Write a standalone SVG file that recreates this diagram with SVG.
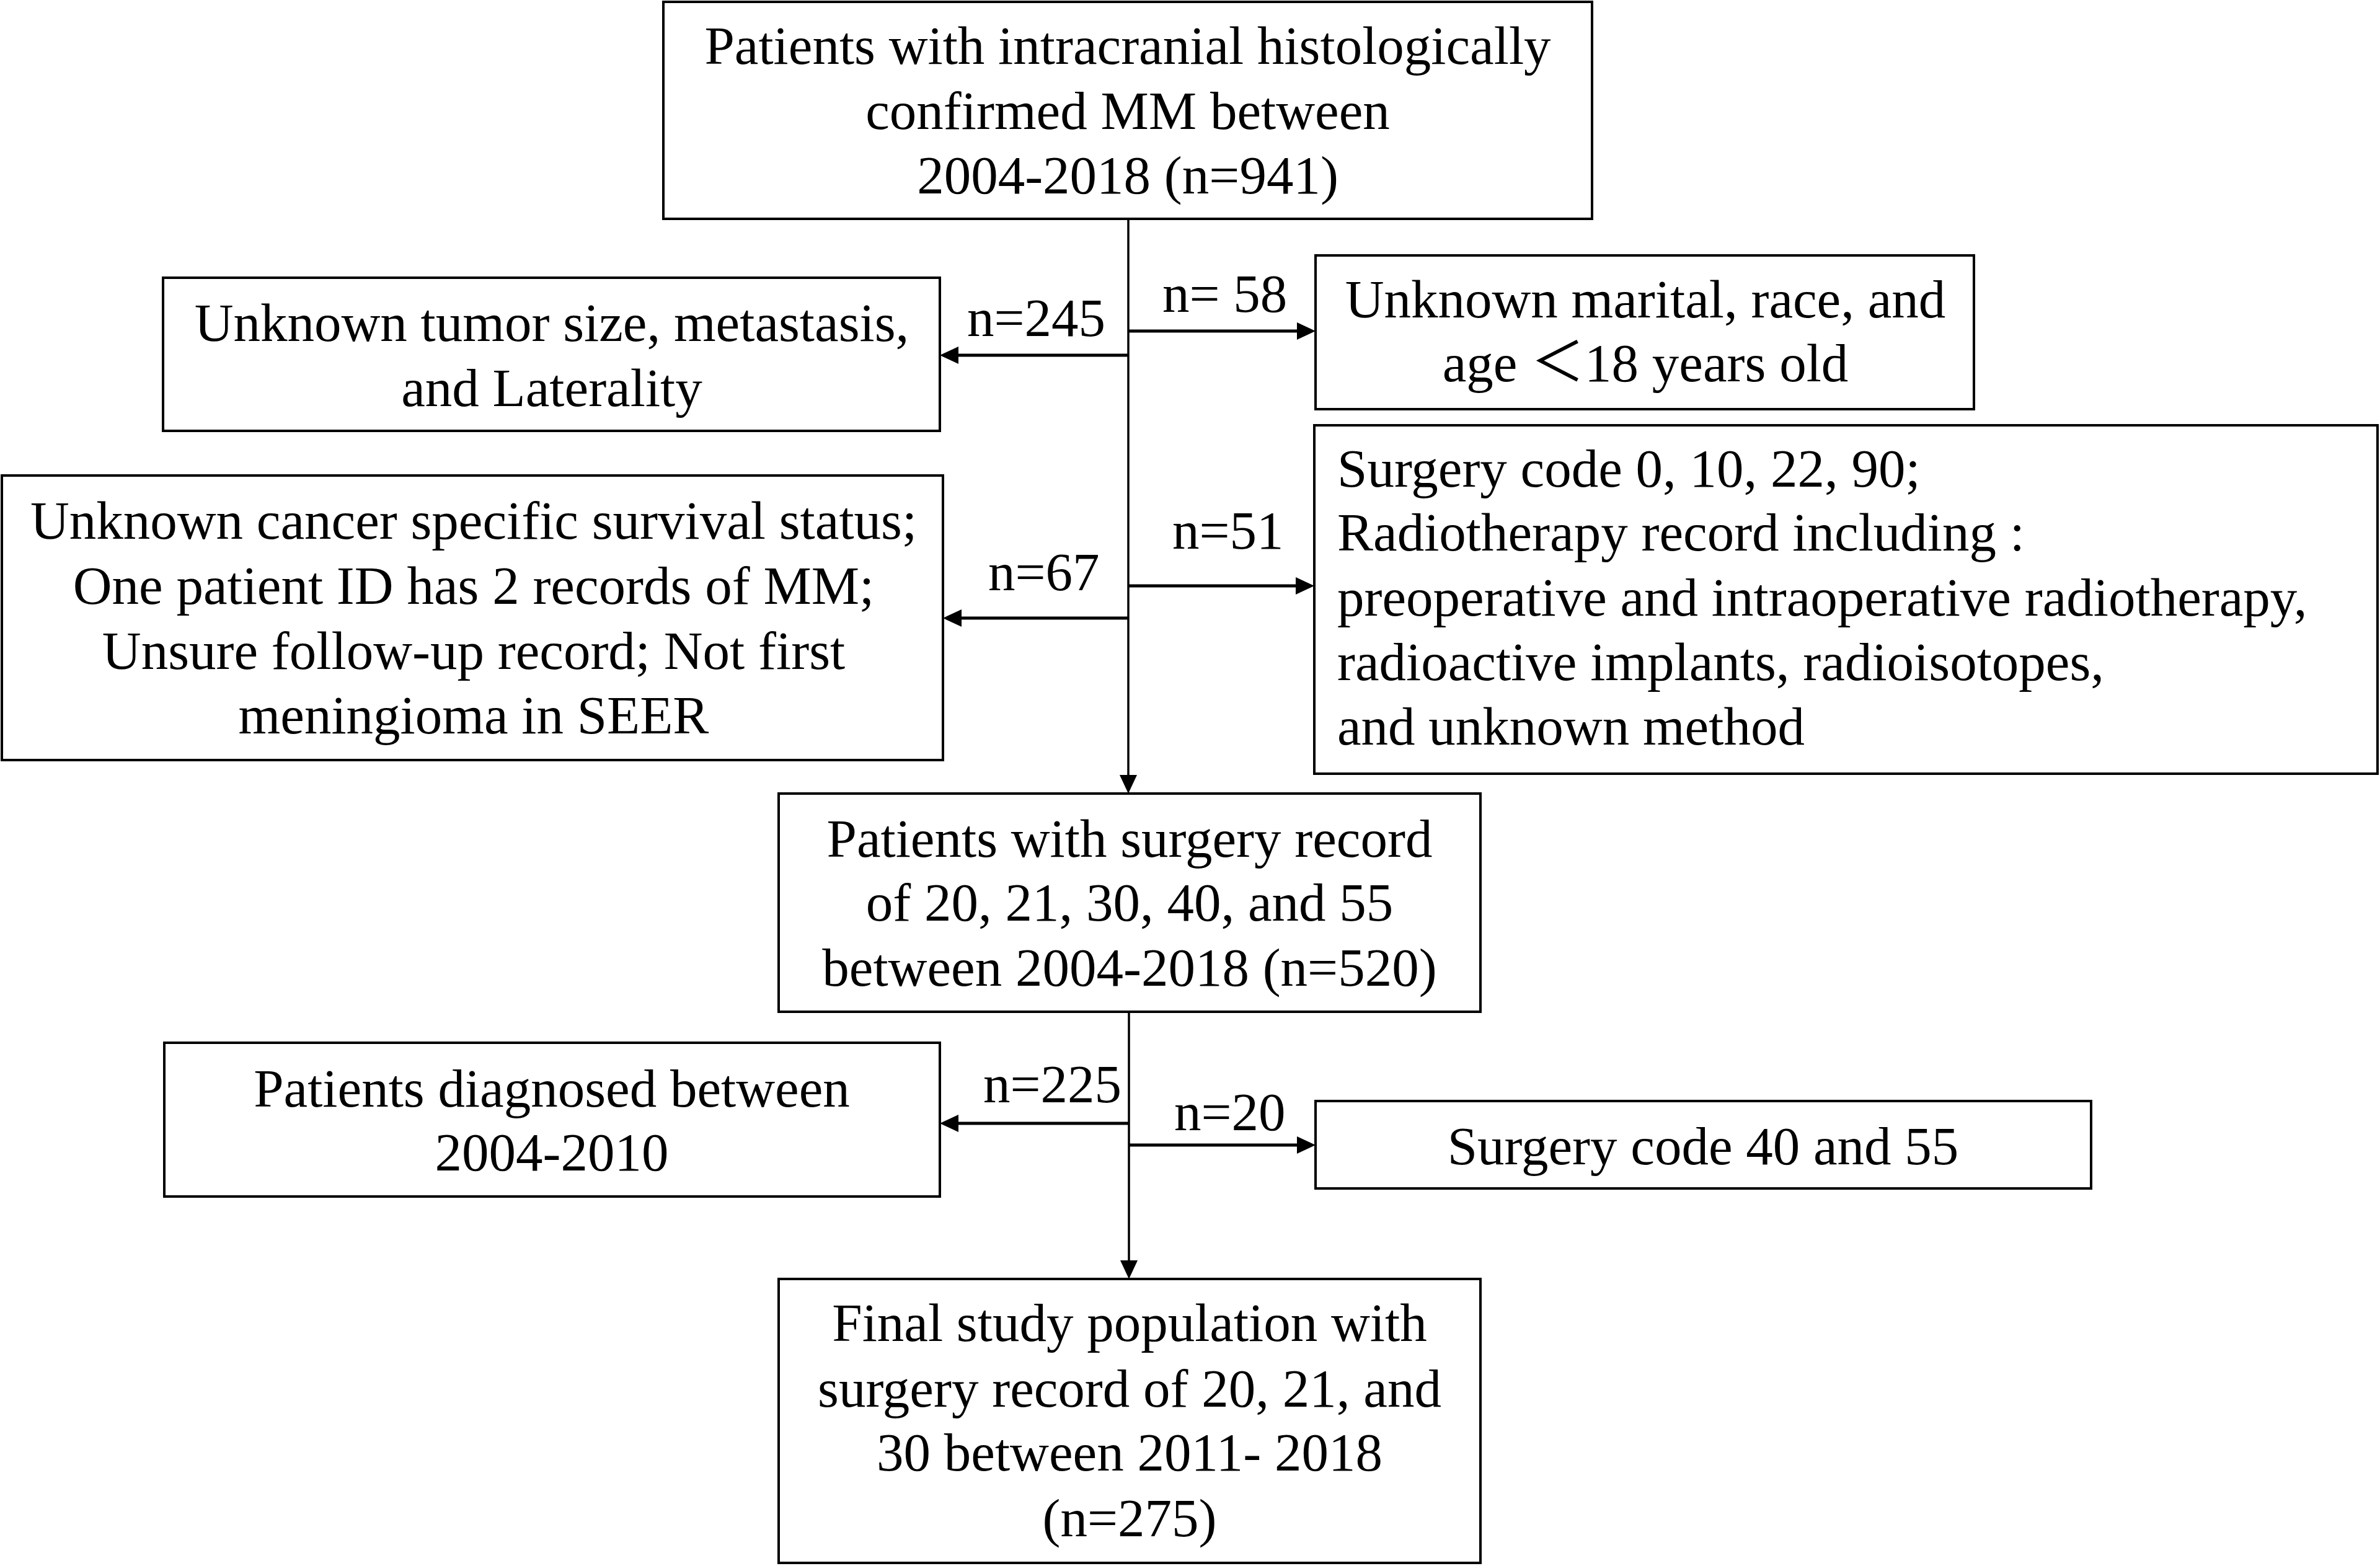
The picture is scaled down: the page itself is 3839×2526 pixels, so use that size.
<svg xmlns="http://www.w3.org/2000/svg" width="3839" height="2526" viewBox="0 0 3839 2526">
<style>
.box{fill:#fff;stroke:#000;stroke-width:4}
.t{font-family:"Liberation Serif","Times New Roman","Noto Sans CJK SC",serif;font-size:87px;fill:#000}
.c{text-anchor:middle}
.v{stroke:#000;stroke-width:3.5;fill:none}
.h{stroke:#000;stroke-width:5;fill:none}
</style>
<defs>
<marker id="ah" viewBox="0 0 30 28" markerUnits="userSpaceOnUse" markerWidth="30" markerHeight="28" refX="10" refY="14" orient="auto">
<path d="M0,0 L30,14 L0,28 z" fill="#000"/>
</marker>
</defs>
<rect width="3839" height="2526" fill="#fff"/>
<g id="connectors">
<line class="v" x1="1820" y1="353" x2="1820" y2="1260" marker-end="url(#ah)"/>
<line class="v" x1="1821" y1="1632" x2="1821" y2="2043" marker-end="url(#ah)"/>
<line class="h" x1="1820" y1="573" x2="1536" y2="573" marker-end="url(#ah)"/>
<line class="h" x1="1820" y1="534" x2="2102" y2="534" marker-end="url(#ah)"/>
<line class="h" x1="1820" y1="997" x2="1541" y2="997" marker-end="url(#ah)"/>
<line class="h" x1="1820" y1="945" x2="2100" y2="945" marker-end="url(#ah)"/>
<line class="h" x1="1820" y1="1812" x2="1536" y2="1812" marker-end="url(#ah)"/>
<line class="h" x1="1820" y1="1847" x2="2102" y2="1847" marker-end="url(#ah)"/>
<text class="t" x="1560" y="542">n=245</text>
<text class="t" x="1875" y="503">n= 58</text>
<text class="t" x="1594" y="952">n=67</text>
<text class="t" x="1891" y="885">n=51</text>
<text class="t" x="1586" y="1778">n=225</text>
<text class="t" x="1894" y="1823">n=20</text>
</g>
<g id="node-start">
<rect class="box" x="1070" y="3" width="1498" height="350"/>
<text class="t c" x="1819" y="103">Patients with intracranial histologically</text>
<text class="t c" x="1819" y="208">confirmed MM between</text>
<text class="t c" x="1819" y="312">2004-2018 (n=941)</text>
</g>
<g id="node-excl1">
<rect class="box" x="263" y="448" width="1253" height="247"/>
<text class="t c" x="890" y="550">Unknown tumor size, metastasis,</text>
<text class="t c" x="890" y="655">and Laterality</text>
</g>
<g id="node-excl2">
<rect class="box" x="2122" y="412" width="1062" height="248"/>
<text class="t c" x="2654" y="512">Unknown marital, race, and</text>
<text class="t c" x="2654" y="615">age ＜18 years old</text>
</g>
<g id="node-excl3">
<rect class="box" x="3" y="767" width="1518" height="459"/>
<text class="t c" x="764" y="869">Unknown cancer specific survival status;</text>
<text class="t c" x="764" y="974">One patient ID has 2 records of MM;</text>
<text class="t c" x="764" y="1079">Unsure follow-up record; Not first</text>
<text class="t c" x="764" y="1183">meningioma in SEER</text>
</g>
<g id="node-excl4">
<rect class="box" x="2120" y="686" width="1715" height="562"/>
<text class="t" x="2157" y="785">Surgery code 0, 10, 22, 90;</text>
<text class="t" x="2157" y="888">Radiotherapy record including :</text>
<text class="t" x="2157" y="993">preoperative and intraoperative radiotherapy,</text>
<text class="t" x="2157" y="1097">radioactive implants, radioisotopes,</text>
<text class="t" x="2157" y="1201">and unknown method</text>
</g>
<g id="node-mid">
<rect class="box" x="1256" y="1280" width="1132" height="352"/>
<text class="t c" x="1822" y="1382">Patients with surgery record</text>
<text class="t c" x="1822" y="1485">of 20, 21, 30, 40, and 55</text>
<text class="t c" x="1822" y="1590">between 2004-2018 (n=520)</text>
</g>
<g id="node-excl5">
<rect class="box" x="265" y="1682" width="1251" height="248"/>
<text class="t c" x="890" y="1785">Patients diagnosed between</text>
<text class="t c" x="890" y="1888">2004-2010</text>
</g>
<g id="node-excl6">
<rect class="box" x="2122" y="1776" width="1251" height="141"/>
<text class="t c" x="2747" y="1878">Surgery code 40 and 55</text>
</g>
<g id="node-final">
<rect class="box" x="1256" y="2063" width="1132" height="458"/>
<text class="t c" x="1822" y="2163">Final study population with</text>
<text class="t c" x="1822" y="2269">surgery record of 20, 21, and</text>
<text class="t c" x="1822" y="2372">30 between 2011- 2018</text>
<text class="t c" x="1822" y="2478">(n=275)</text>
</g>
</svg>
